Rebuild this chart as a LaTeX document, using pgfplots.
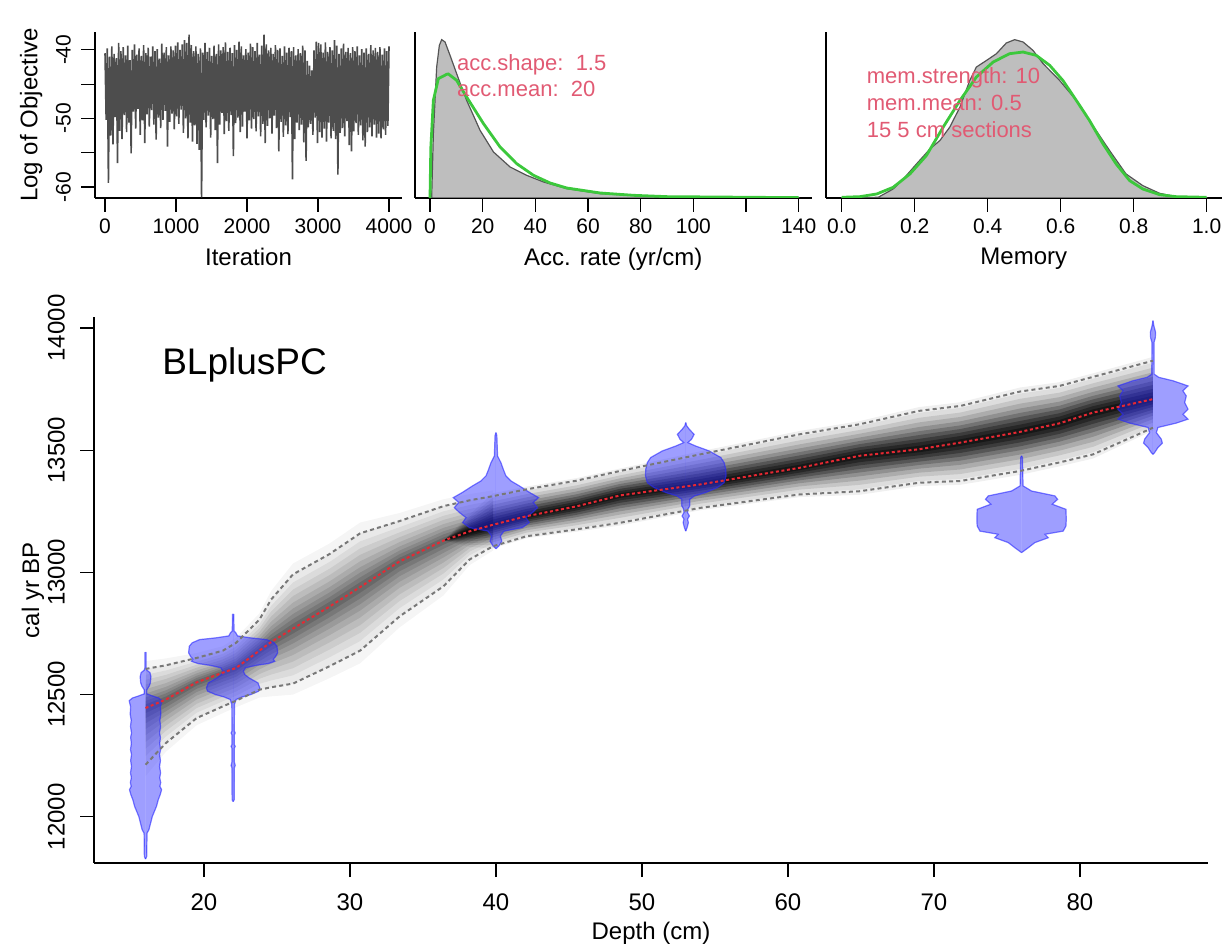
\documentclass[border=0pt]{standalone}
\usepackage{fontspec}
\setmainfont{Liberation Sans}
\usepackage{pgfplots}
\usepackage{pgfplotstable}
\pgfplotsset{compat=1.18}

\definecolor{traceGray}{RGB}{77,77,77}
\definecolor{densFill}{RGB}{190,190,190}
\definecolor{densLine}{RGB}{85,85,85}
\definecolor{priorGreen}{RGB}{60,200,60}
\definecolor{noteRed}{RGB}{225,90,115}
\definecolor{violinBlue}{RGB}{40,40,255}
\definecolor{meanRed}{RGB}{230,40,50}
\definecolor{ciGray}{RGB}{120,120,120}

\pgfplotsset{
  rbase/.style={
    scale only axis,
    axis lines=left,
    axis line style={-, line width=0.6pt, black},
    tick align=outside,
    major tick length=7pt,
    tick style={black, line width=0.6pt},
    /pgf/number format/assume math mode=true,
    /pgf/number format/1000 sep={},
    scaled ticks=false,
    label style={font=\fontsize{12}{14}\selectfont},
  },
}

% one grey band of the age-model cloud: polygon table, fraction of the 95% range, opacity
% (rows run forward along the upper limit r=u, then back along the lower limit r=l)
\newcommand{\cloudband}[3]{%
  \addplot[fill=black, fill opacity=#3, draw=none, forget plot]
    table[x=d, y expr={\thisrow{m}+#2*(\thisrow{r}-\thisrow{m})}] {#1} -- cycle;
}
% calibrated date as a violin: table (a = age, w = half width in cm), depth
\newcommand{\violin}[2]{%
  \addplot[fill=violinBlue, fill opacity=0.45, draw=none, forget plot] table[x expr=#2+\thisrow{w}, y=a] {#1} -- cycle;
  \addplot[fill=violinBlue, fill opacity=0.45, draw=none, forget plot] table[x expr=#2-\thisrow{w}, y=a] {#1} -- cycle;
  \addplot[violinBlue, draw opacity=0.6, line width=0.6pt, forget plot] table[x expr=#2+\thisrow{w}, y=a] {#1};
  \addplot[violinBlue, draw opacity=0.6, line width=0.6pt, forget plot] table[x expr=#2-\thisrow{w}, y=a] {#1};
}

\pgfplotstableread{
d m r
16.0 12445 12605
17.4 12480 12620
19.5 12550 12650
21.3 12590 12680
22.2 12609 12712
23.8 12680 12807
24.6 12715 12889
26.1 12770 12992
28.6 12860 13075
30.7 12940 13160
33.4 13045 13210
36.4 13130 13271
38.2 13168 13295
39.8 13195 13312
39.8 13195 13107
38.2 13168 13053
36.4 13130 12943
33.4 13045 12820
30.7 12940 12680
28.6 12860 12616
26.1 12770 12545
24.6 12715 12530
23.8 12680 12520
22.2 12609 12475
21.3 12590 12452
19.5 12550 12404
17.4 12480 12302
16.0 12445 12213
}\polyA
\pgfplotstableread{
d m r
36.4 13130 13130
38.2 13168 13231
39.8 13195 13312
42.1 13230 13340
45.5 13270 13375
48.5 13315 13415
54.0 13360 13483
60.8 13428 13565
64.9 13477 13606
69.0 13504 13661
71.8 13531 13681
75.9 13575 13740
78.6 13610 13763
80.9 13654 13800
85.0 13709 13866
85.0 13709 13592
80.9 13654 13483
78.6 13610 13450
75.9 13575 13415
71.8 13531 13374
69.0 13504 13367
64.9 13477 13332
60.8 13428 13319
54.0 13360 13264
48.5 13315 13203
45.5 13270 13176
42.1 13230 13148
39.8 13195 13107
38.2 13168 13110
36.4 13130 13130
}\polyB
\pgfplotstableread{
d l m u
16.0 12213 12445 12605
17.4 12302 12480 12620
19.5 12404 12550 12650
21.3 12452 12590 12680
22.2 12475 12609 12712
23.8 12520 12680 12807
24.6 12530 12715 12889
26.1 12545 12770 12992
28.6 12616 12860 13075
30.7 12680 12940 13160
33.4 12820 13045 13210
36.4 12943 13130 13271
38.2 13053 13168 13295
39.8 13107 13195 13312
42.1 13148 13230 13340
45.5 13176 13270 13375
48.5 13203 13315 13415
54.0 13264 13360 13483
60.8 13319 13428 13565
64.9 13332 13477 13606
69.0 13367 13504 13661
71.8 13374 13531 13681
75.9 13415 13575 13740
78.6 13450 13610 13763
80.9 13483 13654 13800
85.0 13592 13709 13866
}\model

\pgfplotstableread{
a w
11827 0
11838 0.08
11933 0.10
11947 0.23
11975 0.35
12001 0.46
12043 0.75
12070 0.87
12090 1.00
12111 1.10
12125 0.98
12140 1.04
12160 0.97
12180 1.03
12206 0.96
12230 1.02
12255 0.96
12275 1.03
12300 0.97
12325 1.02
12343 0.96
12370 1.03
12395 0.98
12420 1.05
12450 1.02
12475 1.12
12486 0.90
12495 0.45
12503 0.09
12520 0.09
12535 0.25
12548 0.33
12573 0.37
12590 0.30
12600 0.09
12610 0.04
12672 0.04
12673 0
}\vA
\pgfplotstableread{
a w
12062 0
12070 0.07
12200 0.08
12210 0.14
12225 0.08
12280 0.08
12288 0.14
12296 0.08
12335 0.08
12343 0.14
12351 0.08
12460 0.09
12480 0.20
12490 0.60
12500 1.20
12514 1.75
12527 1.83
12548 1.70
12568 1.10
12582 0.80
12596 0.70
12610 0.85
12620 1.60
12627 2.40
12636 2.85
12645 2.75
12655 2.90
12671 3.05
12698 3.00
12712 2.80
12725 2.30
12732 1.20
12740 0.30
12753 0.18
12760 0.06
12828 0.04
12829 0
}\vB
\pgfplotstableread{
a w
13097 0
13108 0.20
13128 0.40
13149 0.30
13169 0.55
13183 1.80
13204 2.28
13224 2.05
13245 2.50
13265 2.85
13286 2.55
13306 2.92
13327 2.30
13354 1.60
13374 1.03
13395 0.68
13422 0.50
13449 0.34
13476 0.11
13560 0.06
13572 0
}\vC
\pgfplotstableread{
a w
13169 0
13185 0.10
13204 0.18
13218 0.12
13231 0.25
13245 0.12
13260 0.15
13272 0.27
13299 0.27
13313 0.60
13327 1.37
13347 2.17
13367 2.63
13395 2.76
13422 2.74
13449 2.63
13470 2.40
13497 1.60
13517 0.68
13531 0.14
13545 0.40
13565 0.57
13585 0.25
13600 0.06
13613 0
}\vD
\pgfplotstableread{
a w
13081 0
13101 0.46
13122 0.91
13142 1.83
13156 1.60
13169 2.85
13190 3.04
13217 3.06
13258 3.04
13279 2.10
13299 2.47
13313 2.28
13333 0.68
13354 0.10
13470 0.06
13477 0
}\vE
\pgfplotstableread{
a w
13483 0
13490 0.11
13511 0.34
13529 0.64
13545 0.57
13572 0.23
13593 0.34
13611 1.60
13627 2.40
13647 2.05
13668 2.40
13695 2.17
13722 2.28
13743 2.05
13763 2.40
13784 1.37
13798 0.40
13811 0.08
13941 0.07
13960 0.16
13982 0.18
14000 0.10
14009 0.06
14030 0
}\vF

\begin{document}
\begin{tikzpicture}
\path[use as bounding box] (0,0) rectangle (612pt,473pt);

% ---------- MCMC trace ----------
\begin{axis}[rbase,
  at={(47.5pt,374pt)}, width=153.5pt, height=83pt,
  xmin=-141, xmax=4183, ymin=-61.6, ymax=-37.4,
  xtick={0,1000,...,4000},
  ytick={-60,-55,-50,-45,-40}, yticklabels={-60,,-50,,-40},
  tick label style={font=\fontsize{10.5}{12}\selectfont},
  yticklabel style={xshift=-1.5pt, rotate=90, anchor=south},
  xlabel={Iteration}, ylabel={Log of Objective},
]
\addplot[traceGray, line width=0.8pt] coordinates {
(0,-40.5) (16,-50.2) (32,-39.8) (48,-59.4) (64,-41.0) (80,-52.5) (96,-39.5) (112,-53.8) (128,-40.6) (144,-49.8)
(160,-41.2) (176,-56.5) (192,-39.0) (208,-51.8) (224,-40.2) (240,-53.0) (256,-39.6) (272,-49.5) (288,-40.8) (304,-52.0)
(320,-39.4) (336,-50.6) (352,-41.5) (368,-55.1) (384,-40.0) (400,-49.0) (416,-39.2) (432,-51.5) (448,-40.7) (464,-48.6)
(480,-39.8) (496,-52.4) (512,-40.9) (528,-50.3) (544,-39.3) (560,-53.6) (576,-40.5) (592,-49.4) (608,-39.7) (624,-51.2)
(640,-41.0) (656,-48.8) (672,-39.5) (688,-50.9) (704,-40.2) (720,-53.1) (736,-39.9) (752,-49.9) (768,-41.3) (784,-51.4)
(800,-39.1) (816,-50.2) (832,-40.4) (848,-48.9) (864,-39.6) (880,-54.1) (896,-40.8) (912,-50.5) (928,-39.5) (944,-49.3)
(960,-40.1) (976,-51.6) (992,-39.4) (1008,-49.7) (1024,-38.9) (1040,-50.8) (1056,-40.0) (1072,-48.7) (1088,-39.2) (1104,-52.1)
(1120,-38.6) (1136,-50.0) (1152,-39.0) (1168,-52.9) (1184,-37.8) (1200,-50.6) (1216,-39.3) (1232,-53.4) (1248,-40.2) (1264,-51.0)
(1280,-39.5) (1296,-53.7) (1312,-40.6) (1328,-54.6) (1344,-39.8) (1360,-61.5) (1376,-40.4) (1392,-50.2) (1408,-39.0) (1424,-51.3)
(1440,-40.3) (1456,-49.6) (1472,-39.7) (1488,-52.8) (1504,-40.9) (1520,-50.1) (1536,-39.4) (1552,-51.7) (1568,-40.6) (1584,-56.5)
(1600,-39.2) (1616,-50.9) (1632,-40.1) (1648,-49.2) (1664,-39.6) (1680,-52.3) (1696,-38.9) (1712,-50.4) (1728,-40.3) (1744,-51.8)
(1760,-39.7) (1776,-49.5) (1792,-40.5) (1808,-55.5) (1824,-39.3) (1840,-50.7) (1856,-40.0) (1872,-49.9) (1888,-38.8) (1904,-52.0)
(1920,-39.5) (1936,-51.2) (1952,-40.8) (1968,-49.0) (1984,-39.9) (2000,-52.9) (2016,-40.4) (2032,-50.3) (2048,-39.1) (2064,-51.5)
(2080,-39.6) (2096,-50.1) (2112,-40.2) (2128,-51.9) (2144,-39.0) (2160,-49.7) (2176,-40.7) (2192,-52.6) (2208,-39.4) (2224,-50.8)
(2240,-37.8) (2256,-53.6) (2272,-39.2) (2288,-51.1) (2304,-40.1) (2320,-50.0) (2336,-39.7) (2352,-52.2) (2368,-40.6) (2384,-49.6)
(2400,-39.3) (2416,-51.4) (2432,-40.0) (2448,-54.8) (2464,-39.8) (2480,-50.5) (2496,-40.9) (2512,-52.7) (2528,-39.5) (2544,-51.0)
(2560,-40.4) (2576,-52.3) (2592,-39.7) (2608,-49.8) (2624,-40.2) (2640,-58.9) (2656,-39.6) (2672,-53.0) (2688,-40.8) (2704,-50.6)
(2720,-39.9) (2736,-51.7) (2752,-40.5) (2768,-50.9) (2784,-39.4) (2800,-53.5) (2816,-40.1) (2832,-56.2) (2848,-41.6) (2864,-51.3)
(2880,-42.3) (2896,-50.8) (2912,-43.0) (2928,-52.4) (2944,-40.1) (2960,-49.9) (2976,-38.8) (2992,-53.6) (3008,-39.0) (3024,-52.0)
(3040,-39.2) (3056,-52.8) (3072,-40.4) (3088,-51.5) (3104,-38.9) (3120,-53.4) (3136,-40.3) (3152,-50.6) (3168,-39.6) (3184,-52.9)
(3200,-40.1) (3216,-51.8) (3232,-38.6) (3248,-53.0) (3264,-39.4) (3280,-58.2) (3296,-40.6) (3312,-52.1) (3328,-39.8) (3344,-51.4)
(3360,-39.1) (3376,-52.6) (3392,-40.3) (3408,-50.4) (3424,-39.7) (3440,-53.9) (3456,-40.5) (3472,-54.8) (3488,-39.6) (3504,-51.9)
(3520,-40.2) (3536,-50.7) (3552,-39.5) (3568,-52.4) (3584,-40.8) (3600,-51.0) (3616,-39.9) (3632,-53.2) (3648,-40.4) (3664,-54.1)
(3680,-39.8) (3696,-52.0) (3712,-40.6) (3728,-51.3) (3744,-39.3) (3760,-52.6) (3776,-40.1) (3792,-50.9) (3808,-39.7) (3824,-52.8)
(3840,-40.3) (3856,-52.2) (3872,-39.6) (3888,-52.9) (3904,-40.7) (3920,-51.6) (3936,-39.8) (3952,-52.4) (3968,-40.2) (3984,-51.1)
(4000,-39.5)
};
\end{axis}

% ---------- accumulation rate ----------
\begin{axis}[rbase,
  at={(207.5pt,374pt)}, width=198.3pt, height=83pt,
  xmin=-5.7, xmax=144.9, ymin=0, ymax=498,
  xtick={0,20,...,140}, xticklabels={0,20,40,60,80,100,,140},
  ytick=\empty,
  tick label style={font=\fontsize{10.5}{12}\selectfont},
  xlabel={Acc. rate (yr/cm)},
]
\addplot[draw=densLine, fill=densFill, line width=0.6pt] coordinates {
(0,0) (0.63,3) (1.27,193) (2.53,393) (3.55,458) (4.43,475) (5.70,468)
(7.6,428) (10.8,358) (13.9,293) (19.0,203) (24.1,138) (30.4,93)
(36.7,68) (43.1,48) (51.9,28) (64.6,13) (83.6,5) (102.6,2) (140,1)
} \closedcycle;
\addplot[priorGreen, line width=1.4pt] coordinates {
(0,0) (0.3,150) (1.27,293) (3.17,358) (6.33,371) (6.97,372) (10.1,353)
(13.9,303) (20.3,223) (26.6,153) (32.9,103) (39.3,68) (45.6,45)
(51.9,30) (64.6,15) (77.3,8) (90,4) (140,1)
};
\node[anchor=base west, inner sep=0pt, text=noteRed, font=\fontsize{11}{13}\selectfont] at (axis cs:10.15,381) {acc.shape:\ \ 1.5};
\node[anchor=base west, inner sep=0pt, text=noteRed, font=\fontsize{11}{13}\selectfont] at (axis cs:10.15,303) {acc.mean:\ \ 20};
\end{axis}

% ---------- memory ----------
\begin{axis}[rbase,
  at={(413pt,374pt)}, width=197.8pt, height=83pt,
  xmin=-0.043, xmax=1.041, ymin=0, ymax=497,
  xtick={0,0.2,0.4,0.6,0.8,1.0},
  xticklabel style={/pgf/number format/.cd, fixed, fixed zerofill, precision=1},
  ytick=\empty,
  tick label style={font=\fontsize{10.5}{12}\selectfont},
  xlabel={Memory},
]
\addplot[draw=densLine, fill=densFill, line width=0.6pt] coordinates {
(0,1) (0.10,2) (0.141,27) (0.169,57) (0.205,102) (0.242,147) (0.269,172)
(0.296,212) (0.324,272) (0.351,352) (0.369,392) (0.397,412) (0.424,432)
(0.451,464) (0.474,474) (0.497,467) (0.524,442) (0.552,402) (0.597,352)
(0.643,292) (0.688,217) (0.734,142) (0.779,72) (0.825,37) (0.871,14)
(0.916,4) (1.0,1)
} \closedcycle;
\addplot[priorGreen, line width=1.4pt] coordinates {
(0,2) (0.05,4) (0.096,12) (0.141,32) (0.187,72) (0.232,127) (0.278,212)
(0.324,292) (0.369,362) (0.415,407) (0.460,432) (0.497,437) (0.533,427)
(0.570,397) (0.606,352) (0.643,292) (0.679,232) (0.716,162) (0.752,102)
(0.789,52) (0.825,27) (0.871,10) (0.916,4) (1.0,2)
};
\node[anchor=base west, inner sep=0pt, text=noteRed, font=\fontsize{11}{13}\selectfont] at (axis cs:0.068,342) {mem.strength: 10};
\node[anchor=base west, inner sep=0pt, text=noteRed, font=\fontsize{11}{13}\selectfont] at (axis cs:0.068,262) {mem.mean: 0.5};
\node[anchor=base west, inner sep=0pt, text=noteRed, font=\fontsize{11}{13}\selectfont] at (axis cs:0.068,182) {15 5 cm sections};
\end{axis}

% ---------- age-depth model ----------
\begin{axis}[rbase,
  at={(47pt,41.5pt)}, width=557pt, height=273pt,
  xmin=12.47, xmax=88.77, ymin=11811, ymax=14045,
  xtick={20,30,...,80}, ytick={12000,12500,...,14000},
  tick label style={font=\fontsize{12}{14}\selectfont},
  xticklabel style={yshift=-5pt},
  yticklabel style={xshift=-4pt, rotate=90, anchor=south},
  xlabel={Depth (cm)}, ylabel={cal yr BP},
  xlabel style={at={(axis description cs:0.5,-0.128)}, anchor=center},
  ylabel style={at={(axis description cs:-0.0548,0.5)}, anchor=center},
]
% grey cloud: shallow part lighter, deep part darker and fading in from 36.4 cm
\cloudband{\polyA}{1.2}{0.04}
\cloudband{\polyA}{1.0}{0.05}
\cloudband{\polyA}{0.85}{0.06}
\cloudband{\polyA}{0.72}{0.07}
\cloudband{\polyA}{0.6}{0.08}
\cloudband{\polyA}{0.48}{0.09}
\cloudband{\polyA}{0.37}{0.10}
\cloudband{\polyA}{0.27}{0.11}
\cloudband{\polyA}{0.18}{0.12}
\cloudband{\polyA}{0.09}{0.13}
\cloudband{\polyB}{1.1}{0.06}
\cloudband{\polyB}{0.95}{0.08}
\cloudband{\polyB}{0.82}{0.10}
\cloudband{\polyB}{0.7}{0.13}
\cloudband{\polyB}{0.58}{0.16}
\cloudband{\polyB}{0.47}{0.20}
\cloudband{\polyB}{0.37}{0.25}
\cloudband{\polyB}{0.27}{0.30}
\cloudband{\polyB}{0.18}{0.35}
\cloudband{\polyB}{0.09}{0.40}
% calibrated dates
\violin{\vA}{16}
\violin{\vB}{22}
\violin{\vC}{40}
\violin{\vD}{53}
\violin{\vE}{76}
\violin{\vF}{85}
% 95% range and mean
\addplot[ciGray, line width=1pt, dash pattern=on 2pt off 1.6pt] table[x=d, y=u] {\model};
\addplot[ciGray, line width=1pt, dash pattern=on 2pt off 1.6pt] table[x=d, y=l] {\model};
\addplot[meanRed, line width=1pt, dash pattern=on 1.5pt off 1.3pt] table[x=d, y=m] {\model};
\node[anchor=base west, inner sep=0pt, font=\fontsize{18.5}{22}\selectfont] at (axis cs:17.12,13811) {BLplusPC};
\end{axis}
\end{tikzpicture}
\end{document}
